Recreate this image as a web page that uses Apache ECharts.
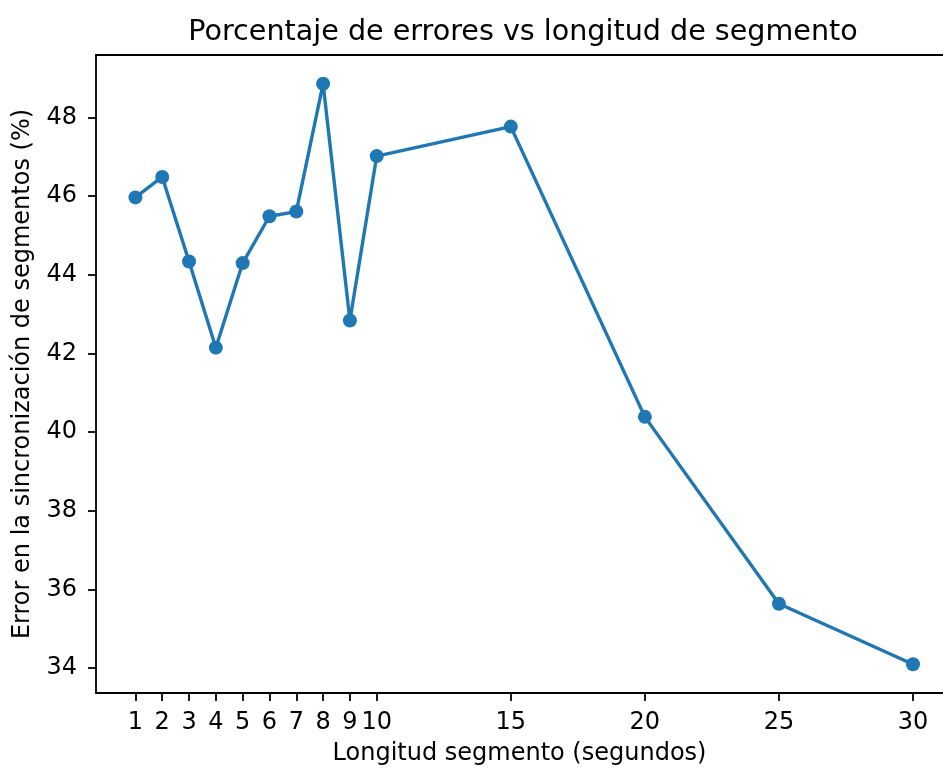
<!DOCTYPE html>
<html>
<head>
<meta charset="utf-8">
<script src="https://cdn.jsdelivr.net/npm/echarts@6/dist/echarts.min.js"></script>
<style>
  html, body { margin: 0; padding: 0; background: #fff; }
  #chart { width: 943px; height: 771px; }
</style>
</head>
<body>
<div id="chart"></div>
<script>
// Segment length (seconds) and synchronisation error (%)
const segmentLengths = [1, 2, 3, 4, 5, 6, 7, 8, 9, 10, 15, 20, 25, 30];
const errorPercent = [45.97, 46.49, 44.34, 42.15, 44.30, 45.49, 45.61, 48.86, 42.84, 47.02, 47.77, 40.39, 35.64, 34.10];
const xTicks = [1, 2, 3, 4, 5, 6, 7, 8, 9, 10, 15, 20, 25, 30];
const yTicks = [34, 36, 38, 40, 42, 44, 46, 48];

const font = 'DejaVu Sans';
const axisColor = '#000';
const chart = echarts.init(document.getElementById('chart'), null, { renderer: 'canvas' });

chart.setOption({
  backgroundColor: '#ffffff',
  animation: false,
  title: {
    text: 'Porcentaje de errores vs longitud de segmento',
    left: 518,
    textAlign: 'center',
    top: 13,
    textStyle: { fontFamily: font, fontSize: 28.6, fontWeight: 'normal', color: '#000' }
  },
  grid: {
    left: 96,
    top: 55,
    right: 0,
    height: 638,
    show: false
  },
  xAxis: [{
    type: 'value',
    min: -0.47,
    max: 31.12,
    name: 'Longitud segmento (segundos)',
    nameLocation: 'middle',
    nameGap: 49,
    nameTextStyle: { fontFamily: font, fontSize: 24, color: '#000' },
    splitLine: { show: false },
    axisLine: { show: true, onZero: false, lineStyle: { color: axisColor, width: 1.8 } },
    axisTick: { show: true, length: 8, lineStyle: { color: axisColor, width: 1.8 }, customValues: xTicks },
    axisLabel: { fontFamily: font, fontSize: 24, color: '#000', margin: 18, customValues: xTicks }
  }, {
    // top frame line
    type: 'value',
    position: 'top',
    min: -0.47,
    max: 31.12,
    splitLine: { show: false },
    axisLine: { show: true, onZero: false, lineStyle: { color: axisColor, width: 1.8 } },
    axisTick: { show: false },
    axisLabel: { show: false }
  }],
  yAxis: {
    type: 'value',
    min: 33.37,
    max: 49.59,
    name: 'Error en la sincronización de segmentos (%)',
    nameLocation: 'middle',
    nameGap: 61,
    nameTextStyle: { fontFamily: font, fontSize: 24, color: '#000' },
    splitLine: { show: false },
    axisLine: { show: true, onZero: false, lineStyle: { color: axisColor, width: 1.8 } },
    axisTick: { show: true, length: 8, lineStyle: { color: axisColor, width: 1.8 }, customValues: yTicks },
    axisLabel: { fontFamily: font, fontSize: 24, color: '#000', margin: 19, customValues: yTicks }
  },
  series: [{
    type: 'line',
    xAxisIndex: 0,
    data: segmentLengths.map((x, i) => [x, errorPercent[i]]),
    symbol: 'circle',
    symbolSize: 14,
    showAllSymbol: true,
    lineStyle: { color: '#1f77b4', width: 3.4 },
    itemStyle: { color: '#1f77b4', borderWidth: 0 },
    clip: false
  }]
});
</script>
</body>
</html>
